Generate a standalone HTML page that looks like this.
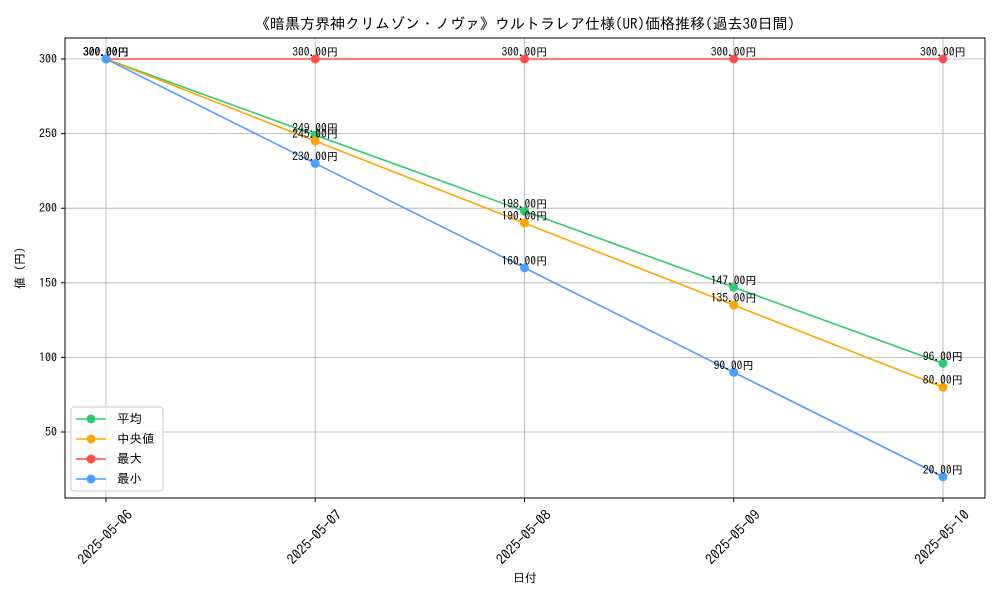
<!DOCTYPE html>
<html><head><meta charset="utf-8"><style>
body{margin:0;background:#fff;}
svg text{font-family:"IPAGothic","Liberation Sans",sans-serif;fill:#000;}
</style></head><body>
<svg id="chart" width="1000" height="600" xmlns="http://www.w3.org/2000/svg">
<rect width="1000" height="600" fill="#fff"/>
<text x="525" y="29" font-size="15" text-anchor="middle">《暗黒方界神クリムゾン・ノヴァ》ウルトラレア仕様(UR)価格推移(過去30日間)</text>
<g id="grid"></g><g id="axes"></g><g id="series"></g><g id="labels"></g>
<rect x="65" y="38" width="920" height="460" fill="none" stroke="#000" stroke-width="1"/>
<text x="525" y="582" font-size="12" text-anchor="middle">日付</text>
<text x="24" y="268" font-size="12" text-anchor="middle" transform="rotate(-90 24 268)">値 (円)</text>
<g>
<rect x="71" y="407" width="92" height="84" rx="3" fill="#fff" fill-opacity="0.8" stroke="#ccc"/>
<g id="legend"></g>
</g>
</svg>
<script>
const categories=["2025-05-06","2025-05-07","2025-05-08","2025-05-09","2025-05-10"];
const avgValues=[300,249,198,147,96];
const medianValues=[300,245,190,135,80];
const maxValues=[300,300,300,300,300];
const minValues=[300,230,160,90,20];
const yTicks=[50,100,150,200,250,300];
const seriesNames=["平均","中央値","最大","最小"];
const NS="http://www.w3.org/2000/svg";
function xs(i){return 106+i*209.25;}
function ys(v){return 59+(300-v)*1.492;}
function mk(t,a,p){const e=document.createElementNS(NS,t);for(const k in a)e.setAttribute(k,a[k]);p.appendChild(e);return e;}
const grid=document.getElementById('grid'),axes=document.getElementById('axes'),ser=document.getElementById('series'),lab=document.getElementById('labels'),leg=document.getElementById('legend');
categories.forEach((c,i)=>{
 const l=mk('line',{x1:xs(i),x2:xs(i),y1:38,y2:498,stroke:'#b0b0b0','stroke-width':0.8},grid);
 
 
 const tk=mk('line',{x1:xs(i),x2:xs(i),y1:498,y2:502,stroke:'#000'},axes);
 
 
 const cx=xs(i)-1,cy=537;
 const t=mk('text',{x:cx,y:cy+5,'font-size':14,'text-anchor':'middle',transform:`rotate(-45 ${cx} ${cy})`},axes);
 t.textContent=c;
 
 
});
yTicks.forEach(v=>{
 const l=mk('line',{x1:65,x2:985,y1:ys(v),y2:ys(v),stroke:'#b0b0b0','stroke-width':0.8},grid);
 
 
 const tk=mk('line',{x1:61,x2:65,y1:ys(v),y2:ys(v),stroke:'#000'},axes);
 
 
 const t=mk('text',{x:57,y:ys(v)+4,'font-size':12,'text-anchor':'end'},axes);
 t.textContent=v;
 
 
});
const all=[[avgValues,'#2ecc71','avg'],[medianValues,'#ffa500','median'],[maxValues,'#ff4d4d','max'],[minValues,'#4d9fff','min']];
all.forEach(([vals,col,key],si)=>{
 const pl=mk('polyline',{points:vals.map((v,i)=>xs(i)+','+ys(v)).join(' '),fill:'none',stroke:col,'stroke-width':1.6},ser);
 
 
 vals.forEach((v,i)=>{
  const c=mk('circle',{cx:xs(i),cy:ys(v),r:4.5,fill:col},ser);
  
  
  const t=mk('text',{x:xs(i),y:ys(v)-3,'font-size':11.5,'text-anchor':'middle'},lab);
  t.textContent=v.toFixed(2)+'円';
  
  
 });
 const y=419+si*20;
 const g=mk('g',{},leg);
 
 
 mk('line',{x1:76,x2:106,y1:y,y2:y,stroke:col,'stroke-width':1.6},g);
 mk('circle',{cx:91,cy:y,r:4.5,fill:col},g);
 const t=mk('text',{x:117,y:y+4,'font-size':12.5},g);
 t.textContent=seriesNames[si];
});
</script>
</body></html>
